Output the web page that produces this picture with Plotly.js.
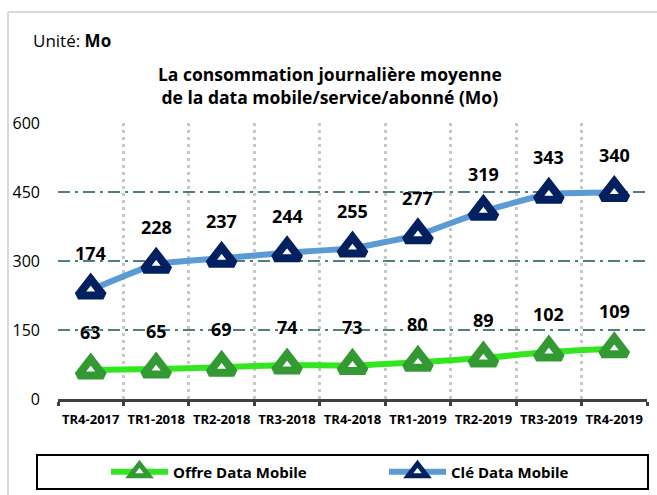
<!DOCTYPE html>
<html>
<head>
<meta charset="utf-8">
<script src="https://cdn.plot.ly/plotly-3.0.1.min.js"></script>
<style>html,body{margin:0;padding:0;background:#fff;}#chart{width:657px;height:495px;}</style>
</head>
<body>
<div id="chart"></div>
<script>
const categories = ['TR4-2017','TR1-2018','TR2-2018','TR3-2018','TR4-2018','TR1-2019','TR2-2019','TR3-2019','TR4-2019'];
const offreData = [63, 65, 69, 74, 73, 80, 89, 102, 109];
const cleData = [174, 228, 237, 244, 255, 277, 319, 343, 340];
const seriesNames = ['Offre Data Mobile', 'Clé Data Mobile'];
const yTicks = [0, 150, 300, 450, 600];

const W = 657, H = 495;
const M = {l: 58, r: 10, t: 123, b: 96};
const PW = W - M.l - M.r, PH = H - M.t - M.b;
const px = x => (x - M.l) / PW;          // pixel x -> paper x
const py = y => (H - M.b - y) / PH;      // pixel y -> paper y

const FONT = '"Open Sans", "Noto Sans", sans-serif';

const traces = [
  {
    x: categories, y: offreData, name: seriesNames[0], type: 'scatter',
    mode: 'lines+markers', stackgroup: 'one', fill: 'none',
    line: {color: '#33e61f', width: 6, shape: 'spline', smoothing: 0.5},
    marker: {symbol: 'triangle-up', size: 22, color: '#ffffff', line: {color: '#339933', width: 8}},
    hoverinfo: 'skip'
  },
  {
    x: categories, y: cleData, name: seriesNames[1], type: 'scatter',
    mode: 'lines+markers', stackgroup: 'one', fill: 'none',
    line: {color: '#5b9bd5', width: 6, shape: 'spline', smoothing: 0.5},
    marker: {symbol: 'triangle-up', size: 22, color: '#ffffff', line: {color: '#002060', width: 8}},
    hoverinfo: 'skip'
  }
];

const annotations = [];
categories.forEach((c, i) => {
  annotations.push({x: c, y: offreData[i], xref: 'x', yref: 'y', text: String(offreData[i]),
    showarrow: false, yshift: 38, yanchor: 'middle', font: {family: FONT, size: 18, color: '#000', weight: 'bold'}});
  annotations.push({x: c, y: offreData[i] + cleData[i], xref: 'x', yref: 'y', text: String(cleData[i]),
    showarrow: false, yshift: 37, yanchor: 'middle', font: {family: FONT, size: 18, color: '#000', weight: 'bold'}});
});
annotations.push({xref: 'paper', yref: 'paper', x: px(31), y: py(40), xanchor: 'left', yanchor: 'middle',
  text: 'Unité: <b>Mo</b>', showarrow: false, font: {family: FONT, size: 17, color: '#000'}});

const layout = {
  width: W, height: H,
  margin: M,
  paper_bgcolor: '#ffffff', plot_bgcolor: '#ffffff',
  font: {family: FONT, color: '#000'},
  title: {
    text: '<b>La consommation journalière moyenne<br>de la data mobile/service/abonné (Mo)</b>',
    x: 0.502, xref: 'container', xanchor: 'center',
    y: 1 - 81 / H, yref: 'container', yanchor: 'middle',
    font: {family: FONT, size: 17.5, color: '#000'}
  },
  xaxis: {
    type: 'category', range: [-0.5, 8.5], tickson: 'boundaries',
    showgrid: true, gridcolor: '#c8c8c8', gridwidth: 3, griddash: '3px,4px',
    showline: true, linecolor: '#404040', linewidth: 3,
    ticks: 'outside', ticklen: 4, tickwidth: 3, tickcolor: '#404040',
    tickangle: 0,
    tickfont: {family: FONT, size: 13, color: '#000', weight: 'bold'},
    ticklabelstandoff: 6, fixedrange: true
  },
  yaxis: {
    range: [0, 600], tickvals: yTicks, ticktext: yTicks.map(String),
    showgrid: true, gridcolor: '#4f8081', gridwidth: 2, griddash: '12px,5px,3px,5px',
    zeroline: false, showline: false, ticks: '',
    tickfont: {family: FONT, size: 16, color: '#000'},
    ticklabelstandoff: 17, fixedrange: true
  },
  showlegend: true,
  legend: {
    orientation: 'h', xref: 'container', yref: 'container',
    x: 106 / W, xanchor: 'left', y: 1 - 472 / H, yanchor: 'middle',
    itemwidth: 57, entrywidth: 206, entrywidthmode: 'pixels',
    font: {family: FONT, size: 15, color: '#000', weight: 'bold'},
    bgcolor: 'rgba(0,0,0,0)', borderwidth: 0, traceorder: 'normal'
  },
  annotations: annotations,
  shapes: [
    {type: 'line', xref: 'paper', yref: 'paper', x0: px(8), x1: px(657), y0: py(12), y1: py(12), line: {color: '#d9d9d9', width: 2}},
    {type: 'line', xref: 'paper', yref: 'paper', x0: px(8), x1: px(8), y0: py(12), y1: py(495), line: {color: '#d9d9d9', width: 2}},
    {type: 'rect', xref: 'paper', yref: 'paper', x0: px(37), x1: px(648), y0: py(455), y1: py(489), line: {color: '#000000', width: 2}, fillcolor: 'rgba(0,0,0,0)'}
  ]
};

Plotly.newPlot('chart', traces, layout, {displayModeBar: false, staticPlot: true});
</script>
</body>
</html>
